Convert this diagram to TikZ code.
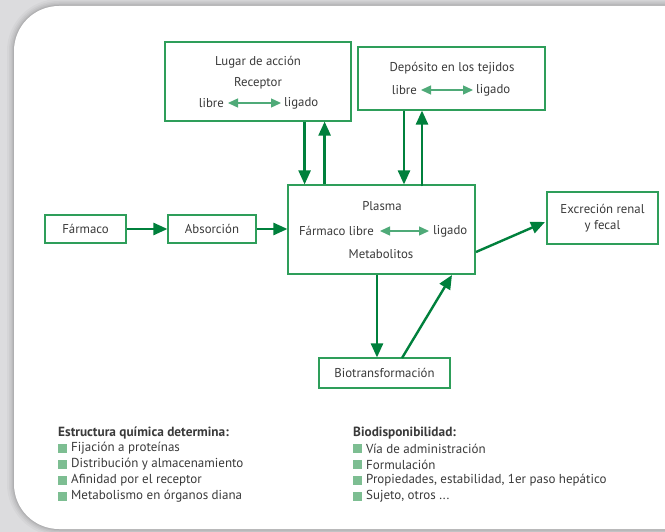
\documentclass[tikz,border=0pt]{standalone}
\usepackage{fontspec}
\setmainfont{PT Sans}
\usetikzlibrary{arrows.meta,calc}
\definecolor{boxgreen}{HTML}{2E9E5A}
\definecolor{arrgreen}{HTML}{00803C}
\definecolor{lightarr}{HTML}{4FAA78}
\definecolor{bullet}{HTML}{7DBE92}
\definecolor{txt}{HTML}{3A3A3A}
\definecolor{bggray}{HTML}{DCDCDE}
\tikzset{
  box/.style={draw=boxgreen, line width=1.1pt, fill=white, inner sep=0pt},
  lbl/.style={text=txt, font=\fontsize{12.8}{16}\selectfont, inner sep=0pt},
  flow/.style={draw=arrgreen, line width=2.4pt, -{Triangle[length=14pt,width=12pt]}},
  eq/.style={draw=lightarr, line width=1.3pt, {Triangle[length=10pt,width=9pt]}-{Triangle[length=10pt,width=9pt]}},
  head/.style={text=txt, font=\fontsize{13.3}{15}\selectfont\bfseries, inner sep=0pt, anchor=west},
  item/.style={text=txt, font=\fontsize{13}{15}\selectfont, inner sep=0pt, anchor=west},
  sq/.style={fill=bullet, minimum size=8.5pt, inner sep=0pt}
}
\begin{document}
\begin{tikzpicture}[x=1pt,y=-1pt]
\useasboundingbox (0,0) rectangle (665,532);
\clip (0,0) rectangle (665,532);
% background and panel
\fill[bggray] (0,0) rectangle (665,532);
\foreach \w/\o in {14/0.05,10/0.07,7/0.08,4/0.1,2/0.12}{
  \draw[black!60, opacity=\o, line width=\w pt, rounded corners=45pt] (14,6) rectangle (720,529);
}
\fill[white, rounded corners=45pt] (14,6) rectangle (720,529);

% boxes
\node[box, minimum width=186pt, minimum height=79pt] (lugar) at (258,81.5) {};
\node[box, minimum width=187pt, minimum height=63pt] (deposito) at (451.5,78.5) {};
\node[box, minimum width=187pt, minimum height=89pt] (plasma) at (381.5,229.5) {};
\node[box, minimum width=81pt, minimum height=28pt] (farmaco) at (85.5,229) {};
\node[box, minimum width=88pt, minimum height=28pt] (absorcion) at (212,229) {};
\node[box, minimum width=111pt, minimum height=52pt] (excrecion) at (602.5,218) {};
\node[box, minimum width=131pt, minimum height=30pt] (biotrans) at (384.5,373) {};

% texts
\node[lbl] (t1) at (258,62) {Lugar de acción};
\node[lbl] (t2) at (258,83) {Receptor};
\node[lbl, anchor=east] (l1) at (224,103) {libre};
\node[lbl, anchor=west] (g1) at (284,103) {ligado};
\path (l1.east) ++(4,0) coordinate (l1a) (g1.west) ++(-3,0) coordinate (g1a);
\draw[eq] (l1a) -- (g1a);

\node[lbl] (t3) at (452,68) {Depósito en los tejidos};
\node[lbl, anchor=east] (l2) at (417,90) {libre};
\node[lbl, anchor=west] (g2) at (476,90) {ligado};
\path (l2.east) ++(4,0) coordinate (l2a) (g2.west) ++(-3,0) coordinate (g2a);
\draw[eq] (l2a) -- (g2a);

\node[lbl] (t4) at (382,206) {Plasma};
\node[lbl, anchor=east] (l3) at (374,231) {Fármaco libre};
\node[lbl, anchor=west] (g3) at (433,231) {ligado};
\path (l3.east) ++(6,0) coordinate (l3a) (g3.west) ++(-4,0) coordinate (g3a);
\draw[eq] (l3a) -- (g3a);
\node[lbl] (t5) at (381,254) {Metabolitos};

\node[lbl] at (farmaco) {Fármaco};
\node[lbl] at (absorcion) {Absorción};
\node[lbl, align=center] at (excrecion) {Excreción renal\\y fecal};
\node[lbl] at (biotrans) {Biotransformación};

% connectors
\coordinate (xa) at (304.6,0);
\coordinate (xb) at (324.6,0);
\coordinate (xc) at (404,0);
\coordinate (xd) at (422,0);
\draw[flow] (lugar.south -| xa) -- (plasma.north -| xa);
\draw[flow] (plasma.north -| xb) -- (lugar.south -| xb);
\draw[flow] (deposito.south -| xc) -- (plasma.north -| xc);
\draw[flow] ($(plasma.north -| xd)+(0,2)$) -- (deposito.south -| xd);
\draw[flow] (farmaco.east) -- (absorcion.west);
\draw[flow] (absorcion.east) -- (plasma.west |- absorcion.east);
\coordinate (xe) at (377,0);
\draw[flow] (plasma.south -| xe) -- (biotrans.north -| xe);
\coordinate (pe) at (476,252);
\coordinate (ee) at (545,222);
\draw[flow] (pe) -- (ee);
\coordinate (bs) at (402,358);
\coordinate (pt) at (452,275);
\draw[flow] (bs) -- (pt);

% bottom lists
\node[head] (h1) at (58,433) {Estructura química determina:};
\node[sq] (a1) at (62.3,448.5) {}; \node[item] (ai1) at (71,448.5) {Fijación a proteínas};
\node[sq] (a2) at (62.3,464.5) {}; \node[item] (ai2) at (71,464.5) {Distribución y almacenamiento};
\node[sq] (a3) at (62.3,480.5) {}; \node[item] (ai3) at (71,480.5) {Afinidad por el receptor};
\node[sq] (a4) at (62.3,496.5) {}; \node[item] (ai4) at (71,496.5) {Metabolismo en órganos diana};

\node[head] (h2) at (353,433) {Biodisponibilidad:};
\node[sq] (b1) at (357.3,448.5) {}; \node[item] (bi1) at (366,448.5) {Vía de administración};
\node[sq] (b2) at (357.3,464.5) {}; \node[item] (bi2) at (366,464.5) {Formulación};
\node[sq] (b3) at (357.3,480.5) {}; \node[item] (bi3) at (366,480.5) {Propiedades, estabilidad, 1er paso hepático};
\node[sq] (b4) at (357.3,496.5) {}; \node[item] (bi4) at (366,496.5) {Sujeto, otros ...};
\end{tikzpicture}
\end{document}
